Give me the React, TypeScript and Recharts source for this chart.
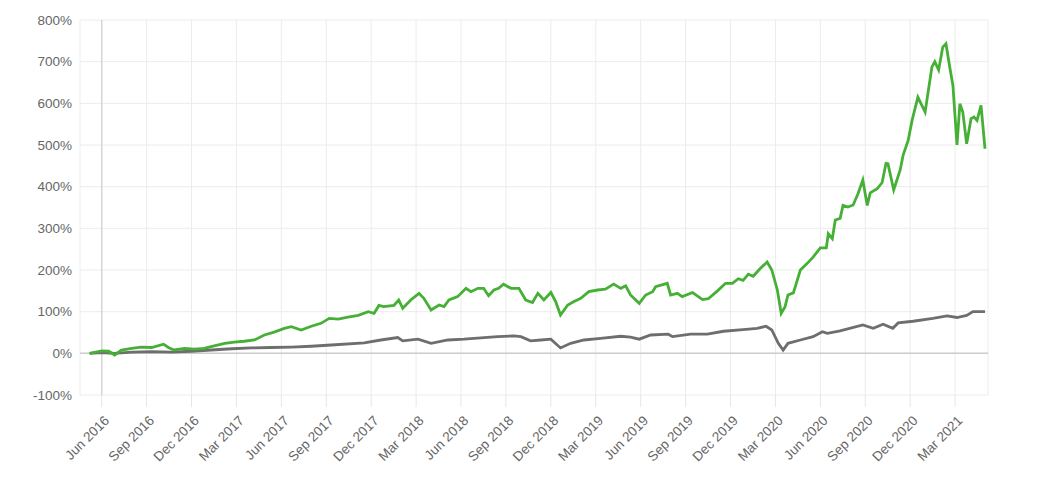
import { LineChart, Line, XAxis, YAxis, CartesianGrid, ReferenceLine } from 'recharts';

// Portfolio (green) vs benchmark (gray), cumulative return in %
const greenDates = [
  '2016-05-07', '2016-06-01', '2016-06-15', '2016-06-27', '2016-07-11', '2016-08-01', '2016-08-21',
  '2016-09-11', '2016-10-05', '2016-10-15', '2016-10-27', '2016-11-17', '2016-12-07', '2016-12-27',
  '2017-01-17', '2017-02-07', '2017-02-25', '2017-03-17', '2017-04-07', '2017-04-27', '2017-05-17',
  '2017-06-07', '2017-06-21', '2017-07-11', '2017-08-01', '2017-08-21', '2017-09-07', '2017-09-25',
  '2017-10-15', '2017-11-05', '2017-11-25', '2017-12-07', '2017-12-17', '2017-12-27', '2018-01-17',
  '2018-01-27', '2018-02-04', '2018-02-19', '2018-03-07', '2018-03-17', '2018-04-01', '2018-04-17',
  '2018-04-27', '2018-05-07', '2018-05-25', '2018-06-11', '2018-06-21', '2018-07-05', '2018-07-17',
  '2018-07-27', '2018-08-07', '2018-08-17', '2018-08-27', '2018-09-11', '2018-09-27', '2018-10-11',
  '2018-10-25', '2018-11-05', '2018-11-17', '2018-12-01', '2018-12-11', '2018-12-21', '2019-01-05',
  '2019-01-17', '2019-02-01', '2019-02-16', '2019-03-05', '2019-03-21', '2019-04-07', '2019-04-21',
  '2019-05-01', '2019-05-11', '2019-05-29', '2019-06-11', '2019-06-25', '2019-07-01', '2019-07-25',
  '2019-08-01', '2019-08-15', '2019-08-25', '2019-09-15', '2019-10-05', '2019-10-17', '2019-11-05',
  '2019-11-21', '2019-12-05', '2019-12-17', '2019-12-27', '2020-01-07', '2020-01-17', '2020-02-01',
  '2020-02-14', '2020-02-23', '2020-03-05', '2020-03-13', '2020-03-21', '2020-03-27', '2020-04-07',
  '2020-04-21', '2020-05-05', '2020-05-17', '2020-06-01', '2020-06-13', '2020-06-17', '2020-06-25',
  '2020-07-01', '2020-07-11', '2020-07-17', '2020-07-27', '2020-08-07', '2020-08-17', '2020-08-27',
  '2020-09-05', '2020-09-11', '2020-09-25', '2020-10-05', '2020-10-13', '2020-10-17', '2020-10-29',
  '2020-11-11', '2020-11-17', '2020-11-27', '2020-12-05', '2020-12-17', '2021-01-01', '2021-01-15',
  '2021-01-21', '2021-01-29', '2021-02-06', '2021-02-12', '2021-02-19', '2021-02-25', '2021-03-05',
  '2021-03-11', '2021-03-17', '2021-03-25', '2021-04-03', '2021-04-09', '2021-04-15', '2021-04-23',
  '2021-05-01',
];
const greenValues = [
  0, 6, 5, -4, 8, 12, 15,
  14, 22, 14, 8, 12, 10, 12,
  18, 24, 27, 29, 32, 44, 51,
  60, 64, 56, 65, 72, 84, 82,
  87, 91, 100, 96, 115, 112, 115,
  128, 108, 128, 144, 132, 104, 116,
  112, 128, 136, 156, 148, 156, 156,
  138, 152, 156, 166, 156, 156, 128,
  122, 144, 128, 146, 124, 92, 116,
  124, 132, 148, 152, 154, 166, 156,
  162, 140, 120, 140, 148, 160, 168,
  140, 144, 136, 146, 129, 131, 150,
  168, 168, 179, 175, 190, 185, 204,
  219, 200, 152, 96, 112, 140, 145,
  200, 216, 231, 253, 253, 287, 275,
  320, 324, 355, 351, 356, 383, 416,
  355, 385, 395, 410, 456, 455, 392,
  440, 476, 511, 559, 615, 579, 687,
  700, 680, 735, 743, 687, 643, 500,
  599, 579, 503, 563, 567, 559, 595,
  491,
];

const grayDates = [
  '2016-05-07', '2016-06-01', '2016-06-27', '2016-08-01', '2016-09-11', '2016-10-21', '2016-12-01',
  '2017-01-11', '2017-02-20', '2017-04-01', '2017-05-11', '2017-06-21', '2017-08-01', '2017-09-11',
  '2017-11-17', '2017-12-21', '2018-01-25', '2018-02-04', '2018-03-05', '2018-04-01', '2018-05-05',
  '2018-06-07', '2018-07-11', '2018-08-15', '2018-09-17', '2018-10-01', '2018-10-21', '2018-11-11',
  '2018-12-01', '2018-12-21', '2019-01-11', '2019-02-07', '2019-03-11', '2019-04-21', '2019-05-11',
  '2019-05-29', '2019-06-21', '2019-07-27', '2019-08-05', '2019-09-11', '2019-10-15', '2019-11-17',
  '2019-12-27', '2020-01-25', '2020-02-12', '2020-02-23', '2020-03-07', '2020-03-17', '2020-03-27',
  '2020-04-21', '2020-05-17', '2020-06-05', '2020-06-15', '2020-07-11', '2020-08-27', '2020-09-17',
  '2020-10-07', '2020-10-27', '2020-11-07', '2020-12-07', '2021-01-17', '2021-02-14', '2021-03-05',
  '2021-03-25', '2021-04-07', '2021-05-01',
];
const grayValues = [
  0, 2, 0, 3, 4, 3, 5,
  8, 11, 13, 14, 15, 17, 20,
  25, 32, 38, 30, 34, 24, 32,
  34, 37, 40, 42, 40, 30, 32,
  34, 13, 24, 32, 36, 41, 39,
  34, 44, 46, 40, 46, 46, 53,
  57, 60, 65, 56, 24, 8, 24,
  32, 40, 52, 48, 54, 68, 60,
  70, 60, 73, 77, 84, 90, 86,
  91, 100, 100,
];

const tickDates = [
  '2016-06-01', '2016-09-01', '2016-12-01', '2017-03-01', '2017-06-01', '2017-09-01', '2017-12-01',
  '2018-03-01', '2018-06-01', '2018-09-01', '2018-12-01', '2019-03-01', '2019-06-01', '2019-09-01',
  '2019-12-01', '2020-03-01', '2020-06-01', '2020-09-01', '2020-12-01', '2021-03-01',
];
const tickLabels = [
  'Jun 2016', 'Sep 2016', 'Dec 2016', 'Mar 2017', 'Jun 2017', 'Sep 2017', 'Dec 2017',
  'Mar 2018', 'Jun 2018', 'Sep 2018', 'Dec 2018', 'Mar 2019', 'Jun 2019', 'Sep 2019',
  'Dec 2019', 'Mar 2020', 'Jun 2020', 'Sep 2020', 'Dec 2020', 'Mar 2021',
];
const yTicks = [-100, 0, 100, 200, 300, 400, 500, 600, 700, 800];

// months since June 2016
const toMonths = (date: string) => {
  const [y, mo, d] = date.split('-').map(Number);
  const days = new Date(y, mo, 0).getDate();
  return (y - 2016) * 12 + (mo - 6) + (d - 1) / days;
};

const greenData = greenDates.map((d, i) => ({ m: toMonths(d), v: greenValues[i] }));
const grayData = grayDates.map((d, i) => ({ m: toMonths(d), v: grayValues[i] }));
const xTicks = tickDates.map(toMonths);

const FONT = '"Liberation Sans", Arial, sans-serif';

const DateTick = ({ x, y, payload }: any) => {
  const idx = xTicks.findIndex((t) => Math.abs(t - payload.value) < 0.01);
  return (
    <g transform={`translate(${x + 5},${y + 5})`}>
      <text
        transform="rotate(-45)"
        textAnchor="end"
        dy="0.35em"
        fontSize={13.5}
        fontFamily={FONT}
        fill="#666"
      >
        {idx >= 0 ? tickLabels[idx] : ''}
      </text>
    </g>
  );
};

export default function App() {
  return (
    <div style={{ position: 'absolute', left: 0, top: 0, background: '#fff' }}>
      <LineChart
        width={1059}
        height={497}
        margin={{ top: 20, right: 71, bottom: 0, left: 0 }}
      >
        <CartesianGrid stroke="#ececec" strokeWidth={1} />
        <XAxis
          dataKey="m"
          type="number"
          domain={[-1.45, 59.2]}
          ticks={xTicks}
          allowDataOverflow
          axisLine={false}
          tickLine={{ stroke: '#e6e6e6' }}
          tickSize={12}
          tickMargin={6}
          tick={<DateTick />}
          interval={0}
          height={102}
        />
        <YAxis
          type="number"
          domain={[-100, 800]}
          ticks={yTicks}
          tickFormatter={(v) => `${v}%`}
          axisLine={false}
          tickLine={false}
          width={80}
          tick={{ fontSize: 13.5, fill: '#666', fontFamily: FONT }}
        />
        <ReferenceLine y={0} stroke="#cccccc" strokeWidth={1.5} />
        <ReferenceLine x={0} stroke="#d6d6d6" strokeWidth={1.5} />
        <Line
          data={grayData}
          dataKey="v"
          type="linear"
          stroke="#6e6e6e"
          strokeWidth={2.8}
          dot={false}
          isAnimationActive={false}
        />
        <Line
          data={greenData}
          dataKey="v"
          type="linear"
          stroke="#45b035"
          strokeWidth={2.8}
          dot={false}
          isAnimationActive={false}
        />
      </LineChart>
    </div>
  );
}
